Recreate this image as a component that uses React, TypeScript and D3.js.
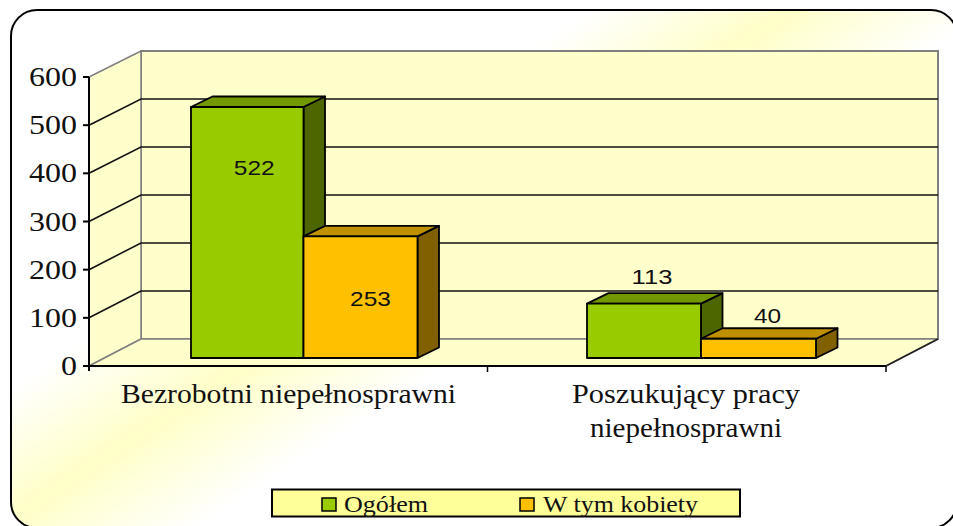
import React from "react";
import * as d3 from "d3";

const categories = ["Bezrobotni niepełnosprawni", "Poszukujący pracy niepełnosprawni"];
const seriesNames = ["Ogółem", "W tym kobiety"];
const ogolem = [522, 113];
const kobiety = [253, 40];
const yTicks = [0, 100, 200, 300, 400, 500, 600];

const faces = [
  { front: "#99cc00", top: "#739900", side: "#4d6600" },
  { front: "#ffc000", top: "#bf9000", side: "#806000" },
];
const serif = "'Liberation Serif', serif";
const sans = "'Liberation Sans', sans-serif";

const yFront = d3.scaleLinear().domain([0, 600]).range([366, 77]);
const yBack = d3.scaleLinear().domain([0, 600]).range([339, 51]);
const yBar = d3.scaleLinear().domain([0, 600]).range([358, 69.5]);
const xBand = d3.scaleBand<number>().domain([0, 1]).range([89, 886]);
const depth = { x: 52, y: -27 };
const barDepth = { x: 21.5, y: -10.5 };
const barWidths = [
  [112.5, 114],
  [114, 115],
];
const groupInset = [102, 99.5];
const labelDy = [
  [68, 70],
  [-20, -16],
];
const labelDx = [
  [7, 10],
  [8, 9],
];

const poly = (pts: number[][]) => pts.map((p) => p.join(",")).join(" ");

function Stretched({ x, y, w, size, font, fill = "#111", children, anchor = "start" }: any) {
  return (
    <text x={x} y={y} fontFamily={font} fontSize={size} fill={fill} textAnchor={anchor}
      textLength={w} lengthAdjust="spacingAndGlyphs">{children}</text>
  );
}

export default function App() {
  const x0 = 89, x1 = 886;
  const bx0 = x0 + depth.x, bx1 = x1 + depth.x;
  const series = [ogolem, kobiety];
  const leftOf = (c: number, s: number) =>
    (xBand(c) as number) + groupInset[c] + (s === 1 ? barWidths[c][0] : 0);
  return (
    <svg width={953} height={526} style={{ position: "absolute", left: 0, top: 0 }}>
      <defs>
        <linearGradient id="bg" gradientUnits="userSpaceOnUse" x1={10} y1={388} x2={130} y2={572}>
          <stop offset="0" stopColor="#ffffff" />
          <stop offset="0.5" stopColor="#ffffc8" />
          <stop offset="1" stopColor="#ffffff" />
        </linearGradient>
      </defs>
      <rect x={0} y={0} width={953} height={526} fill="#fff" />
      <rect x={11} y={10} width={946} height={518} rx={26} ry={26} fill="url(#bg)" stroke="#000" strokeWidth={2} />

      {/* walls and floor */}
      <polygon points={poly([[bx0, yBack(600)], [bx1, yBack(600)], [bx1, yBack(0)], [bx0, yBack(0)]])} fill="#ffffcc" stroke="#808080" strokeWidth={2} />
      <polygon points={poly([[x0, yFront(600)], [bx0, yBack(600)], [bx0, yBack(0)], [x0, yFront(0)]])} fill="#ffffcc" stroke="#808080" strokeWidth={1.5} />
      <polygon points={poly([[x0, yFront(0)], [x1, yFront(0)], [bx1, yBack(0)], [bx0, yBack(0)]])} fill="#ffffcc" stroke="#808080" strokeWidth={1.5} />

      {/* gridlines */}
      {yTicks.slice(1, -1).map((t) => (
        <polyline key={t} fill="none" stroke="#111" strokeWidth={1.6}
          points={poly([[x0, yFront(t)], [bx0, yBack(t)], [bx1, yBack(t)]])} />
      ))}
      <line x1={x1} y1={yFront(0)} x2={bx1} y2={yBack(0)} stroke="#222" strokeWidth={1.5} />

      {/* bars */}
      {categories.map((_, c) =>
        series.map((vals, s) => {
          const v = vals[c];
          const left = leftOf(c, s);
          const right = left + barWidths[c][s];
          const top = yBar(v), bot = yBar(0);
          const f = faces[s];
          const dx = barDepth.x, dy = barDepth.y;
          return (
            <g key={`${c}-${s}`} stroke="#000" strokeWidth={1.8} strokeLinejoin="round">
              <polygon points={poly([[right, top], [right + dx, top + dy], [right + dx, bot + dy], [right, bot]])} fill={f.side} />
              <polygon points={poly([[left, top], [left + dx, top + dy], [right + dx, top + dy], [right, top]])} fill={f.top} />
              <rect x={left} y={top} width={right - left} height={bot - top} fill={f.front} />
            </g>
          );
        })
      )}

      {/* value labels */}
      {categories.map((_, c) =>
        series.map((vals, s) => {
          const v = vals[c];
          return (
            <Stretched key={`l${c}-${s}`} x={leftOf(c, s) + barWidths[c][s] / 2 + labelDx[c][s]} y={yBar(v) + labelDy[c][s]} anchor="middle"
              w={String(v).length * 13.6} size={21} font={sans}>{v}</Stretched>
          );
        })
      )}

      {/* axes */}
      <line x1={x0} y1={yFront(600)} x2={x0} y2={yFront(0) + 5} stroke="#000" strokeWidth={2} />
      <line x1={x0} y1={yFront(0)} x2={x1} y2={yFront(0)} stroke="#000" strokeWidth={2} />
      {yTicks.map((t) => (
        <g key={t}>
          <line x1={x0 - 6} x2={x0} y1={yFront(t)} y2={yFront(t)} stroke="#000" strokeWidth={2} />
          <Stretched x={77} y={yFront(t) + 9} anchor="end" w={String(t).length * 16} size={27} font={serif}>{t}</Stretched>
        </g>
      ))}
      {[0, 1].map((i) => {
        const xx = (xBand(i) as number) + xBand.bandwidth();
        return <line key={i} x1={xx} x2={xx} y1={366} y2={372} stroke="#000" strokeWidth={1.5} />;
      })}

      {/* category labels */}
      <Stretched x={121} y={403} w={335} size={28} font={serif}>{categories[0]}</Stretched>
      <Stretched x={572} y={403} w={228} size={28} font={serif}>{"Poszukujący pracy"}</Stretched>
      <Stretched x={590} y={437} w={192} size={28} font={serif}>{"niepełnosprawni"}</Stretched>

      {/* legend */}
      <rect x={272} y={489.5} width={468} height={27} fill="#ffff99" stroke="#000" strokeWidth={2} />
      <rect x={322} y={498} width={14} height={13} fill={faces[0].front} stroke="#000" strokeWidth={1.5} />
      <Stretched x={344} y={512} w={84} size={24} font={serif}>{seriesNames[0]}</Stretched>
      <rect x={520} y={498} width={14} height={13} fill={faces[1].front} stroke="#000" strokeWidth={1.5} />
      <Stretched x={543} y={512} w={155} size={24} font={serif}>{seriesNames[1]}</Stretched>
    </svg>
  );
}
